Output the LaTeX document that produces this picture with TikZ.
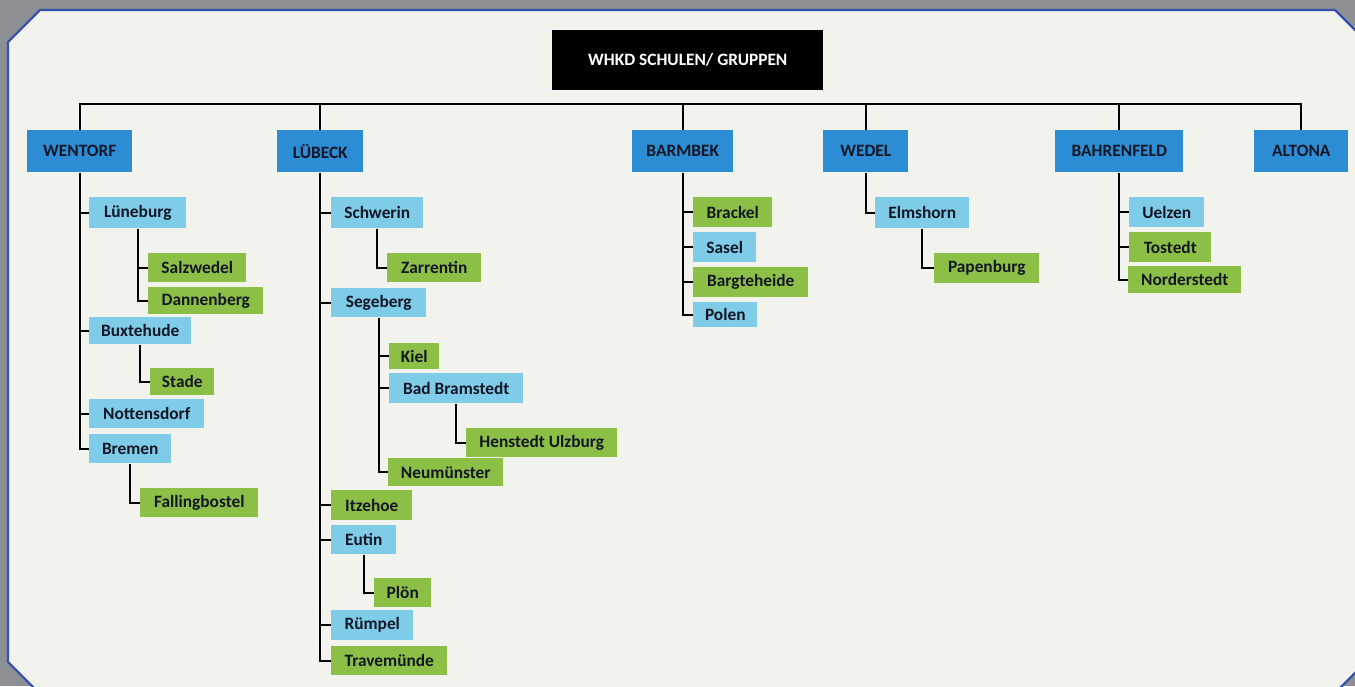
\documentclass[tikz,border=0pt]{standalone}
\usepackage{fontspec}
\setmainfont{Carlito}
\definecolor{bggray}{HTML}{8E8F94}
\definecolor{panel}{HTML}{F1F3EC}
\definecolor{frame}{HTML}{3652AE}
\definecolor{dblue}{HTML}{2D8DD4}
\definecolor{lblue}{HTML}{7FCCE9}
\definecolor{lgreen}{HTML}{8CBF46}
\definecolor{txt}{HTML}{141626}
\newcommand\bx[7]{\node[#6, minimum width={(#4-#2)*0.75pt}, minimum height={(#5-#3)*0.75pt}, anchor=north west] (#1) at (#2,#3) {#7};}
\tikzset{
  base/.style={rectangle, inner sep=0pt, font=\bfseries\fontsize{13}{15}\selectfont, text=txt},
  lvla/.style={base, fill=dblue},
  lb/.style={base, fill=lblue},
  gr/.style={base, fill=lgreen},
  hdr/.style={rectangle, inner sep=0pt, fill=black, text=white, font=\bfseries\fontsize{13}{15}\selectfont},
  ln/.style={draw=black, line width=1.8pt}
}
\begin{document}
\begin{tikzpicture}[x=0.75pt,y=-0.75pt]
\useasboundingbox (0,0) rectangle (1355,686);
\fill[bggray] (0,0) rectangle (1355,686);
\begin{scope}
\clip (0,0) rectangle (1355,686);
\draw[frame, line width=1.8pt, fill=panel] (8,42) -- (40,10) -- (1335,10) -- (1380,55) -- (1380,648) -- (1330,698) -- (44,698) -- (8,662) -- cycle;
\end{scope}
% header
\bx{hd}{552}{30}{823}{90}{hdr}{WHKD SCHULEN/ GRUPPEN}
% level 1
\bx{wentorf}{27}{130}{132}{172}{lvla}{WENTORF}
\bx{luebeck}{277}{130}{363}{172}{lvla}{LÜBECK}
\bx{barmbek}{632}{130}{733}{172}{lvla}{BARMBEK}
\bx{wedel}{823}{130}{908}{172}{lvla}{WEDEL}
\bx{bahrenfeld}{1055}{130}{1183}{172}{lvla}{BAHRENFELD}
\bx{altona}{1254}{130}{1348}{172}{lvla}{ALTONA}
% Wentorf branch
\bx{lueneburg}{89}{197}{186}{228}{lb}{Lüneburg}
\bx{salzwedel}{148}{253}{246}{282}{gr}{Salzwedel}
\bx{dannenberg}{148}{287}{263}{314}{gr}{Dannenberg}
\bx{buxtehude}{89}{317}{191}{344}{lb}{Buxtehude}
\bx{stade}{150}{368}{214}{395}{gr}{Stade}
\bx{nottensdorf}{89}{399}{204}{428}{lb}{Nottensdorf}
\bx{bremen}{89}{434}{171}{463}{lb}{Bremen}
\bx{fallingbostel}{140}{488}{258}{517}{gr}{Fallingbostel}
% Luebeck branch
\bx{schwerin}{331}{197}{423}{228}{lb}{Schwerin}
\bx{zarrentin}{387}{253}{481}{282}{gr}{Zarrentin}
\bx{segeberg}{331}{288}{426}{317}{lb}{Segeberg}
\bx{kiel}{389}{343}{439}{369}{gr}{Kiel}
\bx{badbramstedt}{389}{373}{523}{403}{lb}{Bad Bramstedt}
\bx{henstedt}{466}{428}{617}{457}{gr}{Henstedt Ulzburg}
\bx{neumuenster}{388}{458}{503}{486}{gr}{Neumünster}
\bx{itzehoe}{331}{490}{412}{520}{gr}{Itzehoe}
\bx{eutin}{331}{525}{396}{554}{lb}{Eutin}
\bx{ploen}{374}{578}{431}{607}{gr}{Plön}
\bx{ruempel}{331}{610}{413}{640}{lb}{Rümpel}
\bx{travemuende}{331}{646}{447}{675}{gr}{Travemünde}
% Barmbek branch
\bx{brackel}{693}{197}{772}{227}{gr}{Brackel}
\bx{sasel}{693}{232}{756}{262}{lb}{Sasel}
\bx{bargteheide}{693}{267}{808}{297}{gr}{Bargteheide}
\bx{polen}{693}{302}{757}{327}{lb}{Polen}
% Wedel branch
\bx{elmshorn}{875}{197}{969}{228}{lb}{Elmshorn}
\bx{papenburg}{934}{253}{1039}{283}{gr}{Papenburg}
% Bahrenfeld branch
\bx{uelzen}{1129}{197}{1204}{227}{lb}{Uelzen}
\bx{tostedt}{1129}{232}{1211}{262}{gr}{Tostedt}
\bx{norderstedt}{1128}{266}{1241}{293}{gr}{Norderstedt}
% bus
\coordinate (bus) at (0,104);
\draw[ln] (wentorf.north) |- (altona.north |- bus) -- (altona.north);
\foreach \n in {luebeck,barmbek,wedel,bahrenfeld}
  \draw[ln] (\n.north) -- (\n.north |- bus);
% trunks
\draw[ln] (wentorf.south) |- (bremen.west);
\foreach \n in {lueneburg,buxtehude,nottensdorf}
  \draw[ln] (wentorf.south |- \n.west) -- (\n.west);
\draw[ln] (lueneburg.south) |- (dannenberg.west);
\draw[ln] (lueneburg.south |- salzwedel.west) -- (salzwedel.west);
\draw[ln] (buxtehude.south) |- (stade.west);
\draw[ln] (bremen.south) |- (fallingbostel.west);
\draw[ln] (luebeck.south) |- (travemuende.west);
\foreach \n in {schwerin,segeberg,itzehoe,eutin,ruempel}
  \draw[ln] (luebeck.south |- \n.west) -- (\n.west);
\draw[ln] (schwerin.south) |- (zarrentin.west);
\draw[ln] (segeberg.south) |- (neumuenster.west);
\foreach \n in {kiel,badbramstedt}
  \draw[ln] (segeberg.south |- \n.west) -- (\n.west);
\draw[ln] (badbramstedt.south) |- (henstedt.west);
\draw[ln] (eutin.south) |- (ploen.west);
\draw[ln] (barmbek.south) |- (polen.west);
\foreach \n in {brackel,sasel,bargteheide}
  \draw[ln] (barmbek.south |- \n.west) -- (\n.west);
\draw[ln] (wedel.south) |- (elmshorn.west);
\draw[ln] (elmshorn.south) |- (papenburg.west);
\draw[ln] (bahrenfeld.south) |- (norderstedt.west);
\foreach \n in {uelzen,tostedt}
  \draw[ln] (bahrenfeld.south |- \n.west) -- (\n.west);
\end{tikzpicture}
\end{document}
